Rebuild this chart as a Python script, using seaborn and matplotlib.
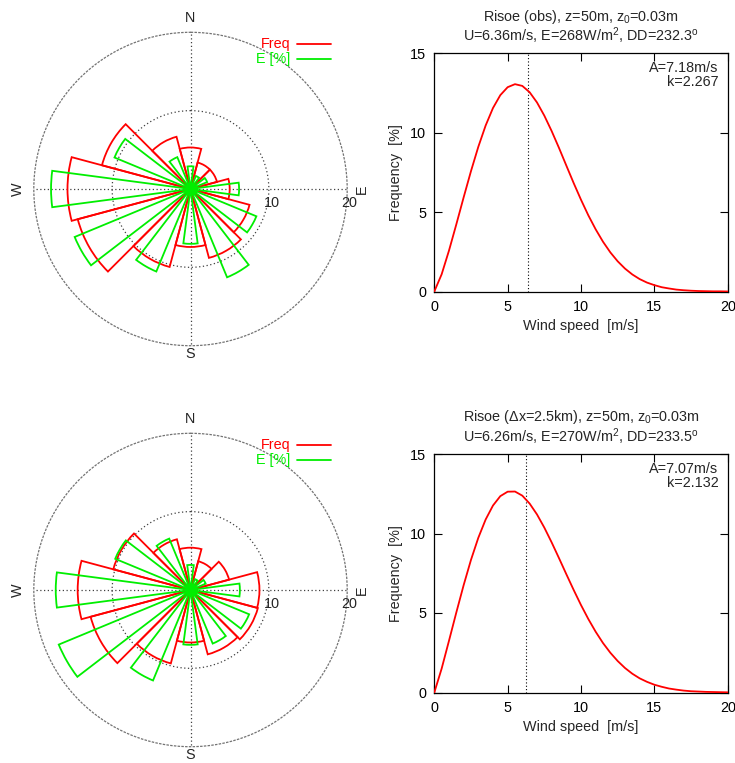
import numpy as np
import pandas as pd
import matplotlib
matplotlib.use("Agg")
import matplotlib.pyplot as plt
from matplotlib.lines import Line2D
import seaborn as sns

# ---------------- data ----------------
directions = [0, 30, 60, 90, 120, 150, 180, 210, 240, 270, 300, 330]

freq_obs = [5.3, 3.5, 3.5, 5.0, 7.8, 9.1, 7.4, 10.3, 14.9, 15.7, 11.7, 6.9]
energy_obs = [2.9, 1.8, 2.3, 6.2, 9.1, 12.2, 7.0, 11.4, 16.0, 17.8, 10.5, 4.4]

freq_mod = [5.4, 3.8, 5.1, 8.8, 8.9, 8.5, 6.7, 9.7, 13.2, 14.4, 10.2, 6.7]
energy_mod = [3.2, 1.5, 2.1, 6.3, 8.1, 7.4, 7.0, 12.5, 18.2, 17.2, 10.4, 7.1]

wind_speed = [0.0, 0.5, 1.0, 1.5, 2.0, 2.5, 3.0, 3.5, 4.0, 4.5, 5.0, 5.5, 6.0, 6.5,
              7.0, 7.5, 8.0, 8.5, 9.0, 9.5, 10.0, 10.5, 11.0, 11.5, 12.0, 12.5,
              13.0, 13.5, 14.0, 14.5, 15.0, 15.5, 16.0, 16.5, 17.0, 17.5, 18.0,
              18.5, 19.0, 19.5, 20.0]
pdf_obs = [0.0, 1.08, 2.57, 4.22, 5.92, 7.57, 9.10, 10.44, 11.54, 12.35, 12.85,
           13.04, 12.93, 12.53, 11.89, 11.06, 10.09, 9.03, 7.92, 6.82, 5.77,
           4.79, 3.91, 3.13, 2.46, 1.90, 1.44, 1.07, 0.78, 0.56, 0.40, 0.27,
           0.19, 0.12, 0.08, 0.05, 0.03, 0.02, 0.01, 0.01, 0.0]
pdf_mod = [0.0, 1.50, 3.25, 5.03, 6.75, 8.34, 9.73, 10.88, 11.76, 12.35, 12.63,
           12.64, 12.38, 11.88, 11.20, 10.37, 9.44, 8.45, 7.44, 6.45, 5.50,
           4.62, 3.82, 3.11, 2.50, 1.98, 1.54, 1.18, 0.89, 0.67, 0.49, 0.36,
           0.25, 0.18, 0.12, 0.08, 0.06, 0.04, 0.03, 0.02, 0.01]

mean_speed = [6.36, 6.26]
weib_A = ["7.18", "7.07"]
weib_k = ["2.267", "2.132"]
titles_1 = ["Risoe (obs), z=50m, z$_0$=0.03m",
            "Risoe (\u0394x=2.5km), z=50m, z$_0$=0.03m"]
titles_2 = ["U=6.36m/s, E=268W/m$^2$, DD=232.3$^\\mathrm{o}$",
            "U=6.26m/s, E=270W/m$^2$, DD=233.5$^\\mathrm{o}$"]
compass = ["N", "E", "S", "W"]
legend_labels = ["Freq", "E [%]"]

# ---------------- style ----------------
sns.set_theme(style="white")
plt.rcParams["font.family"] = ["Liberation Sans", "DejaVu Sans"]
plt.rcParams["mathtext.fontset"] = "custom"
plt.rcParams["mathtext.rm"] = "Liberation Sans"
plt.rcParams["mathtext.it"] = "Liberation Sans:italic"
plt.rcParams["mathtext.bf"] = "Liberation Sans:bold"

W, H = 735, 763
fig = plt.figure(figsize=(W / 100, H / 100), dpi=100)
fig.patch.set_facecolor("white")

def fx(x):
    return x / W

def fy(y):
    return 1 - y / H

RED = "#ff0000"
GREEN = "#00ee00"
FS = 10.4
dot = (0, (1, 2))

rows = [(freq_obs, energy_obs, pdf_obs), (freq_mod, energy_mod, pdf_mod)]

for i, (fr, en, pdf) in enumerate(rows):
    off = 401 * i
    # ----- wind rose -----
    cx, cy, R = 190.5, 189 + off, 156.7
    ax = fig.add_axes([fx(cx - R), fy(cy + R), 2 * R / W, 2 * R / H],
                      projection="polar")
    ax.set_theta_zero_location("N")
    ax.set_theta_direction(-1)
    ax.set_ylim(0, 20)
    ax.set_yticks([10])
    ax.set_yticklabels([])
    ax.set_xticks(np.deg2rad([0, 90, 180, 270]))
    ax.set_xticklabels([])
    ax.grid(True, color="0.25", linestyle=dot, linewidth=0.9)
    ax.spines["polar"].set_linestyle(dot)
    ax.spines["polar"].set_color("0.45")
    ax.spines["polar"].set_linewidth(0.9)
    ax.set_facecolor("white")
    ax.tick_params(length=0, pad=0)

    theta = np.deg2rad(directions)
    ax.bar(theta, fr, width=np.deg2rad(30), bottom=0, align="center",
           fill=False, edgecolor=RED, linewidth=1.3, zorder=3)
    ax.bar(theta, en, width=np.deg2rad(15), bottom=0, align="center",
           fill=False, edgecolor=GREEN, linewidth=1.3, zorder=4)
    ax.plot([0], [0], marker="o", color=GREEN, markersize=8, zorder=5)

    fig.text(fx(cx), fy(cy - 171), compass[0], ha="center", va="center", fontsize=FS)
    fig.text(fx(cx), fy(cy + 165), compass[2], ha="center", va="center", fontsize=FS)
    fig.text(fx(18), fy(cy), compass[3], ha="center", va="center", fontsize=FS,
             rotation=90)
    fig.text(fx(362), fy(cy), compass[1], ha="center", va="center", fontsize=FS,
             rotation=90)
    fig.text(fx(272), fy(cy + 14), "10", ha="center", va="center", fontsize=FS)
    fig.text(fx(349.5), fy(cy + 14), "20", ha="center", va="center", fontsize=FS)

    # legend
    for j, (lab, col) in enumerate(zip(legend_labels, [RED, GREEN])):
        ly = 44 + off + 15 * j
        fig.text(fx(290), fy(ly), lab, ha="right", va="center",
                 fontsize=FS, color=col)
        fig.add_artist(Line2D([fx(297), fx(331)], [fy(ly), fy(ly)],
                              color=col, linewidth=1.3))

    # ----- Weibull distribution -----
    top, bot = 53 + off, 291.5 + off
    axw = fig.add_axes([fx(434.3), fy(bot), (727.7 - 434.3) / W, (bot - top) / H])
    df = pd.DataFrame({"speed": wind_speed, "freq": pdf})
    sns.lineplot(data=df, x="speed", y="freq", ax=axw, color=RED,
                 linewidth=1.3, zorder=3)
    axw.axvline(mean_speed[i], color="black", linestyle=dot, linewidth=0.8,
                zorder=2)
    axw.set_xlim(0, 20)
    axw.set_ylim(0, 15)
    axw.set_xticks([0, 5, 10, 15, 20])
    axw.set_yticks([0, 5, 10, 15])
    axw.tick_params(direction="in", length=6, width=0.8, top=True, right=True,
                    bottom=True, left=True, labelsize=FS, pad=6, colors="black")
    for s in axw.spines.values():
        s.set_color("black")
        s.set_linewidth(0.9)
    axw.set_xlabel("Wind speed  [m/s]", fontsize=FS, labelpad=4)
    axw.set_ylabel("Frequency  [%]", fontsize=FS, labelpad=5)
    axw.grid(False)

    fig.text(fx(581), fy(7.5 + off), titles_1[i] + "\n" + titles_2[i],
             ha="center", va="top", fontsize=FS, linespacing=1.0,
             multialignment="center")
    fig.text(fx(718.5), fy(72 + off), "A=" + weib_A[i] + "m/s", ha="right",
             va="baseline", fontsize=FS)
    fig.text(fx(718.5), fy(86 + off), "k=" + weib_k[i], ha="right",
             va="baseline", fontsize=FS)

fig.savefig("out.png", dpi=100, facecolor="white")
